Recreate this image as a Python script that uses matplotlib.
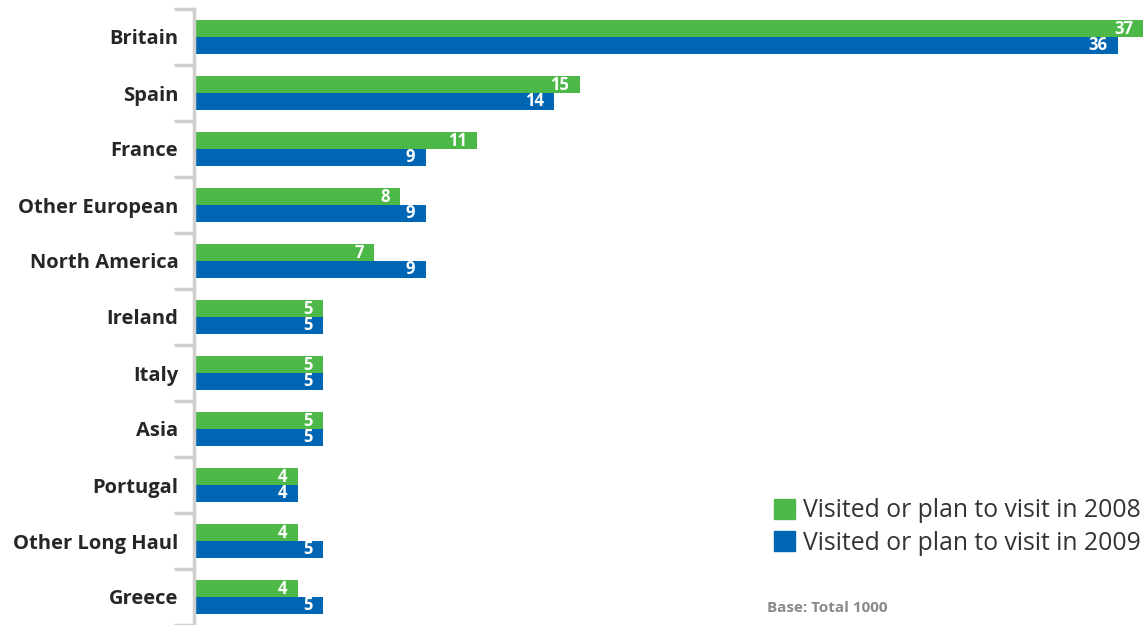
import matplotlib
matplotlib.use("Agg")
import matplotlib.pyplot as plt
import numpy as np
from matplotlib.patches import Patch

plt.rcParams["font.family"] = ["Open Sans", "DejaVu Sans"]
plt.rcParams["font.weight"] = "bold"

# Destinations, top to bottom
countries = ["Britain", "Spain", "France", "Other European", "North America",
             "Ireland", "Italy", "Asia", "Portugal", "Other Long Haul", "Greece"]
visits_2008 = [37, 15, 11, 8, 7, 5, 5, 5, 4, 4, 4]
visits_2009 = [36, 14, 9, 9, 9, 5, 5, 5, 4, 5, 5]
series_labels = ["Visited or plan to visit in 2008", "Visited or plan to visit in 2009"]
base_note = "Base: Total 1000"

GREEN = "#4cb848"
BLUE = "#0066b3"
AXIS_GREY = "#cfcfcf"
TEXT = "#262626"

W, H = 1148, 625
fig = plt.figure(figsize=(W / 100, H / 100), dpi=100)
ax = fig.add_axes([195 / W, 0, (1146 - 195) / W, (625 - 9) / H])

y = np.arange(len(countries))
bh = 0.295
ax.barh(y - bh / 2, visits_2008, height=bh, color=GREEN, linewidth=0)
ax.barh(y + bh / 2, visits_2009, height=bh, color=BLUE, linewidth=0)

# value labels inside the bar ends
for i, (a, b) in enumerate(zip(visits_2008, visits_2009)):
    ax.text(a - 0.4, i - bh / 2, str(a), color="white", fontsize=12,
            fontweight="bold", ha="right", va="center")
    ax.text(b - 0.4, i + bh / 2, str(b), color="white", fontsize=12,
            fontweight="bold", ha="right", va="center")

ax.set_xlim(0, 37.1)
ax.set_ylim(len(countries) - 0.5, -0.5)
ax.set_xticks([])

# category boundaries as minor ticks, names on the major ones
ax.set_yticks(np.arange(-0.5, len(countries)), minor=True)
ax.tick_params(axis="y", which="minor", length=14.5, width=2.5, color=AXIS_GREY)
ax.set_yticks(y)
ax.set_yticklabels(countries)
ax.tick_params(axis="y", which="major", length=0, pad=11, labelsize=14.5, labelcolor=TEXT)

for side in ["top", "right", "bottom"]:
    ax.spines[side].set_visible(False)
ax.spines["left"].set_color(AXIS_GREY)
ax.spines["left"].set_linewidth(2.5)
ax.spines["left"].set_position(("outward", 1))

handles = [Patch(color=GREEN), Patch(color=BLUE)]
fig.legend(handles, series_labels, loc="upper left", bbox_to_anchor=(752 / W, 1 - 476 / H),
           frameon=False, prop={"size": 17.8, "weight": "normal"},
           handlelength=0.85, handleheight=0.85,
           handletextpad=0.3, labelspacing=0.3, labelcolor="#333333")

fig.text(767 / W, 1 - 608 / H, base_note, fontsize=11, fontweight="bold",
         color="#8a8a8a", va="center")

fig.savefig("out.png", dpi=100)
